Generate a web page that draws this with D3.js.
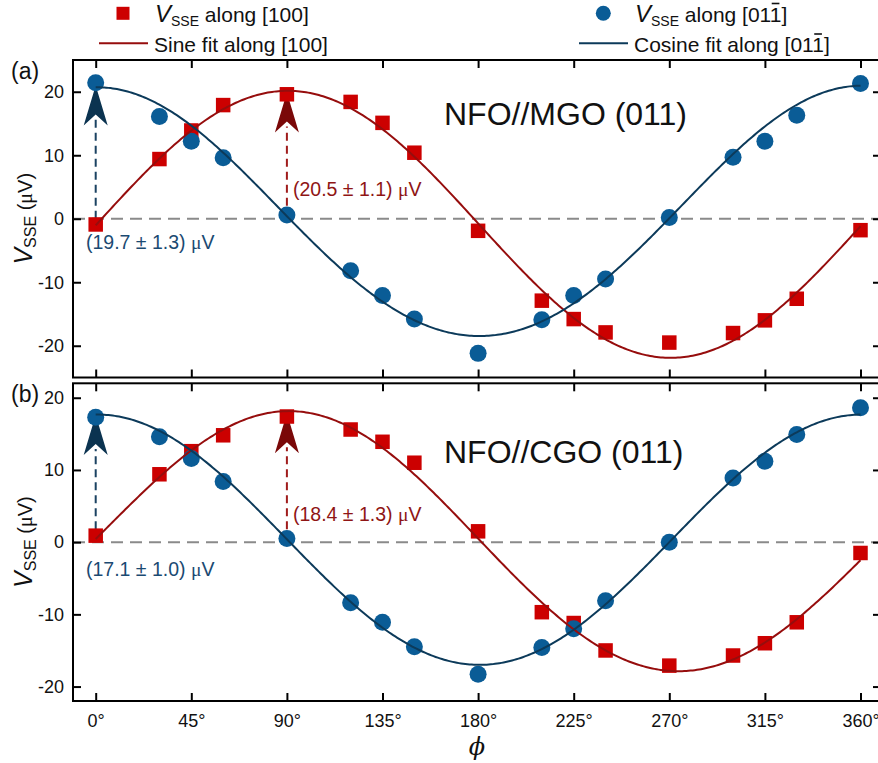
<!DOCTYPE html>
<html><head><meta charset="utf-8">
<script src="https://cdn.jsdelivr.net/npm/d3@7"></script>
<style>
body{margin:0;background:#fff}
svg{display:block}
text{font-family:"Liberation Sans",Arial,Helvetica,sans-serif}
</style>
</head><body>
<svg id="chart" width="878" height="763"></svg>
<script>
// ---------------- data ----------------
const angles = [0,30,45,60,90,120,135,150,180,210,225,240,270,300,315,330,360];
const xTicks = [0,45,90,135,180,225,270,315,360];
const xTickLabels = ["0°","45°","90°","135°","180°","225°","270°","315°","360°"];
const yTicks = [-20,-10,0,10,20];
const yTickLabels = ["-20","-10","0","10","20"];

// panel (a) NFO//MGO (011)
const mgoAlong100 = [-0.9, 9.4, 13.9, 17.9, 19.6, 18.4, 15.1, 10.4, -1.9, -12.9, -15.8, -17.9, -19.5, -18.0, -16.0, -12.6, -1.8];
const mgoAlong011 = [21.4, 16.1, 12.2, 9.6, 0.6, -8.2, -12.1, -15.8, -21.2, -15.9, -12.1, -9.5, 0.2, 9.7, 12.2, 16.3, 21.3];
// panel (b) NFO//CGO (011)
const cgoAlong100 = [0.9, 9.4, 12.6, 14.8, 17.4, 15.6, 13.9, 11.0, 1.5, -9.7, -11.2, -15.0, -17.1, -15.7, -14.0, -11.1, -1.5];
const cgoAlong011 = [17.3, 14.6, 11.6, 8.4, 0.5, -8.4, -11.1, -14.5, -18.3, -14.6, -12.0, -8.1, 0.0, 8.9, 11.2, 14.9, 18.6];

// fit parameters: [offset, sin amplitude, cos amplitude, cos2 amplitude, drift per degree]
const mgoSineFit = [-0.82, 20.99, -0.19, -0.02, -0.00042];
const mgoCosFit  = [0.58, 0.23, 19.65, 0.47, 0.0007];
const cgoSineFit = [1.42, 17.25, -0.77, -0.21, -0.00817];
const cgoCosFit  = [0.27, 0.2, 17.335, 0.07, 0];

const panelLabels = ["(a)", "(b)"];
const sampleNames = ["NFO//MGO (011)", "NFO//CGO (011)"];
const sineAmpLabels = ["(20.5 ± 1.1) ", "(18.4 ± 1.3) "];
const cosAmpLabels  = ["(19.7 ± 1.3) ", "(17.1 ± 1.0) "];
const sineArrowTips = [19.9, 17.85];
const cosArrowTips  = [21.0, 17.6];
const yDomains = [[-25, 25], [-22, 22]];

const legendLabels = ["along [100]", "Sine fit along [100]", "along [01", "Cosine fit along [01"];

// ---------------- styles ----------------
const C = {
  square: "#cc0000", circle: "#0a5c96",
  sineLine: "#960d0d", cosLine: "#0c3a5a",
  sineArrow: "#7a0808", cosArrow: "#0b3350",
  sineDash: "#a01c1c", cosDash: "#1b4262",
  sineText: "#8f1515", cosText: "#1b4a72",
  zero: "#8a8a8a"
};

const svg = d3.select("#chart");
const frameL = 73, frameR = 881;
const x = d3.scaleLinear().domain([0, 360]).range([95.7, 860.5]);
const panels = [
  {top: 60, bottom: 377.5},
  {top: 383.3, bottom: 701}
];
const datasets = [
  {s: mgoAlong100, c: mgoAlong011, fs: mgoSineFit, fc: mgoCosFit},
  {s: cgoAlong100, c: cgoAlong011, fs: cgoSineFit, fc: cgoCosFit}
];
const rad = Math.PI / 180;
function model(p, phi) {
  return p[0] + p[1] * Math.sin(phi * rad) + p[2] * Math.cos(phi * rad) + p[3] * Math.cos(2 * phi * rad) + p[4] * phi;
}
const fitPhis = d3.range(0, 360.5, 1);

function arrow(g, px, y0, yTip, headColor, dashColor) {
  const len = 40, half = 12, notch = 11;
  g.append("line").attr("x1", px).attr("x2", px)
    .attr("y1", y0).attr("y2", yTip + len - 6)
    .attr("stroke", dashColor).attr("stroke-width", 2)
    .attr("stroke-dasharray", "8,5");
  g.append("path")
    .attr("d", `M${px},${yTip} L${px + half},${yTip + len} L${px},${yTip + len - notch} L${px - half},${yTip + len} Z`)
    .attr("fill", headColor);
}

panels.forEach((P, i) => {
  const y = d3.scaleLinear().domain(yDomains[i]).range([P.bottom, P.top]);
  const D = datasets[i];
  const g = svg.append("g");

  // zero line
  g.append("line").attr("x1", frameL).attr("x2", frameR)
    .attr("y1", y(0)).attr("y2", y(0))
    .attr("stroke", C.zero).attr("stroke-width", 2).attr("stroke-dasharray", "12,7");

  // arrows
  arrow(g, x(0), y(0), y(cosArrowTips[i]), C.cosArrow, C.cosDash);
  arrow(g, x(90), y(0), y(sineArrowTips[i]), C.sineArrow, C.sineDash);

  // markers
  const sq = 14.5;
  g.selectAll(".sq").data(angles).enter().append("rect")
    .attr("x", (d, k) => x(d) - sq / 2).attr("y", (d, k) => y(D.s[k]) - sq / 2)
    .attr("width", sq).attr("height", sq).attr("fill", C.square);
  g.selectAll(".ci").data(angles).enter().append("circle")
    .attr("cx", d => x(d)).attr("cy", (d, k) => y(D.c[k]))
    .attr("r", 8.5).attr("fill", C.circle);

  // fits
  const ln = d3.line().x(d => x(d[0])).y(d => y(d[1]));
  g.append("path").datum(fitPhis.map(f => [f, model(D.fs, f)]))
    .attr("d", ln).attr("fill", "none").attr("stroke", C.sineLine).attr("stroke-width", 2);
  g.append("path").datum(fitPhis.map(f => [f, model(D.fc, f)]))
    .attr("d", ln).attr("fill", "none").attr("stroke", C.cosLine).attr("stroke-width", 2);

  // axes (inward ticks)
  const axL = g.append("g").attr("transform", `translate(${frameL},0)`)
    .call(d3.axisLeft(y).tickValues(yTicks).tickSize(-8).tickPadding(9)
      .tickFormat((d) => yTickLabels[yTicks.indexOf(d)]));
  const axR = g.append("g").attr("transform", `translate(${frameR},0)`)
    .call(d3.axisRight(y).tickValues(yTicks).tickSize(-8).tickFormat(""));
  const axT = g.append("g").attr("transform", `translate(0,${P.top})`)
    .call(d3.axisTop(x).tickValues(xTicks).tickSize(-8).tickFormat(""));
  const axB = g.append("g").attr("transform", `translate(0,${P.bottom})`)
    .call(d3.axisBottom(x).tickValues(xTicks).tickSize(-8).tickPadding(13)
      .tickFormat(i === 1 ? (d => xTickLabels[xTicks.indexOf(d)]) : ""));
  [axL, axR, axT, axB].forEach(a => {
    a.select(".domain").remove();
    a.selectAll(".tick line").attr("stroke", "#000").attr("stroke-width", 2);
    a.selectAll(".tick text").attr("fill", "#111").style("font-size", "18px")
      .style("font-family", '"Liberation Sans",Arial,sans-serif');
  });

  // frame
  g.append("rect").attr("x", frameL).attr("y", P.top)
    .attr("width", frameR - frameL).attr("height", P.bottom - P.top)
    .attr("fill", "none").attr("stroke", "#000").attr("stroke-width", 2);

  // panel label
  g.append("text").attr("x", 11).attr("y", P.top + 18.5)
    .style("font-size", "23px").attr("fill", "#111").text(panelLabels[i]);

  // sample name
  g.append("text").attr("x", 444).attr("y", i === 0 ? 125 : 463.3)
    .style("font-size", "32px").attr("fill", "#111").text(sampleNames[i]);

  // amplitude annotations
  const tc = g.append("text").attr("x", 86).attr("y", i === 0 ? 248.5 : 576)
    .style("font-size", "19.5px").attr("fill", C.cosText);
  tc.append("tspan").text(cosAmpLabels[i]);
  tc.append("tspan").style("font-family", '"Liberation Serif","DejaVu Serif",serif').text("μ");
  tc.append("tspan").text("V");
  const ts = g.append("text").attr("x", 293).attr("y", i === 0 ? 196 : 521)
    .style("font-size", "19.5px").attr("fill", C.sineText);
  ts.append("tspan").text(sineAmpLabels[i]);
  ts.append("tspan").style("font-family", '"Liberation Serif","DejaVu Serif",serif').text("μ");
  ts.append("tspan").text("V");

  // y axis title
  const yt = g.append("text")
    .attr("transform", `translate(32,${(P.top + P.bottom) / 2}) rotate(-90)`)
    .attr("text-anchor", "middle").attr("fill", "#111");
  yt.append("tspan").style("font-size", "25px").style("font-style", "italic").text("V");
  yt.append("tspan").style("font-size", "16px").attr("dy", 4).text("SSE");
  yt.append("tspan").style("font-size", "20px").attr("dy", -4).text(" (");
  yt.append("tspan").style("font-size", "20px").style("font-family", '"Liberation Serif","DejaVu Serif",serif').text("μ");
  yt.append("tspan").style("font-size", "20px").text("V)");
});

// x axis title
svg.append("text").attr("x", 477).attr("y", 755).attr("text-anchor", "middle")
  .style("font-family", '"DejaVu Serif",serif').style("font-style", "italic").style("font-size", "24px")
  .attr("fill", "#111").text("ϕ");

// ---------------- legend ----------------
const lg = svg.append("g");
lg.append("rect").attr("x", 123 - 6.5).attr("y", 13.3 - 6.5).attr("width", 13).attr("height", 13).attr("fill", C.square);
lg.append("circle").attr("cx", 603.3).attr("cy", 13.3).attr("r", 7.5).attr("fill", C.circle);
lg.append("line").attr("x1", 99).attr("x2", 148).attr("y1", 43.3).attr("y2", 43.3).attr("stroke", C.sineLine).attr("stroke-width", 2);
lg.append("line").attr("x1", 579).attr("x2", 628).attr("y1", 43.3).attr("y2", 43.3).attr("stroke", C.cosLine).attr("stroke-width", 2);

function vsse(xp, yp, rest) {
  const t = lg.append("text").attr("x", xp).attr("y", yp).attr("fill", "#111").style("font-size", "21px");
  t.append("tspan").style("font-size", "24px").style("font-style", "italic").text("V");
  t.append("tspan").style("font-size", "14px").attr("dy", 4).text("SSE");
  t.append("tspan").attr("dy", -4).text(" " + rest);
  return t;
}
vsse(155, 21.5, legendLabels[0]);
lg.append("text").attr("x", 154).attr("y", 52).attr("fill", "#111").style("font-size", "21px").text(legendLabels[1]);

function overbarOne(t) {
  // append "1" with overbar and closing bracket
  const one = t.append("tspan").text("1");
  t.append("tspan").text("]");
  const node = t.node();
  const n = node.getNumberOfChars();
  const ext = node.getExtentOfChar(n - 2);
  lg.append("line").attr("x1", ext.x + 2).attr("x2", ext.x + ext.width - 2)
    .attr("y1", ext.y + 1).attr("y2", ext.y + 1).attr("stroke", "#111").attr("stroke-width", 1.6);
}
const t3 = vsse(635, 21.5, legendLabels[2]);
overbarOne(t3);
const t4 = lg.append("text").attr("x", 634).attr("y", 52).attr("fill", "#111").style("font-size", "21px");
t4.append("tspan").text(legendLabels[3]);
overbarOne(t4);
</script>
</body></html>
